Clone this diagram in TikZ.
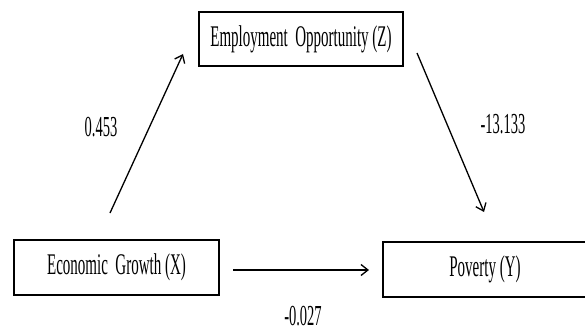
\documentclass[tikz,border=0pt]{standalone}
\usepackage{fontspec}
\usepackage{graphicx}
\setmainfont{Liberation Serif}
\usetikzlibrary{arrows.meta}
\newcommand\narrowtxt[1]{\scalebox{0.5}[1]{#1}}
\tikzset{
  varbox/.style={draw=black, line width=1.9pt, rectangle, inner sep=0pt,
    minimum height=54pt, font=\fontsize{30}{32}\selectfont},
  path arrow/.style={line width=1.3pt, -{Straight Barb[length=7pt,width=11pt,line width=1.3pt]}},
  coef/.style={font=\fontsize{29}{31}\selectfont, inner sep=0pt}
}
\begin{document}
\begin{tikzpicture}[x=1pt,y=-1pt]
\useasboundingbox (0,0) rectangle (585,331);
\node[varbox, minimum width=204pt] (Z) at (301,39) {\narrowtxt{Employment\ \ Opportunity (Z)}};
\node[varbox, minimum width=205pt, minimum height=55pt] (X) at (116.5,267.5) {\narrowtxt{Economic\ \ Growth (X)}};
\node[varbox, minimum width=204pt, minimum height=55pt] (Y) at (485,269.5) {\narrowtxt{Poverty (Y)}};
\coordinate (a1s) at (110,213);
\coordinate (a1e) at (183,54);
\coordinate (a2s) at (417,53);
\coordinate (a2e) at (484,212);
\coordinate (a3s) at (233,270);
\coordinate (a3e) at (369,270);
\draw[path arrow] (a1s) -- (a1e);
\draw[path arrow] (a2s) -- (a2e);
\draw[path arrow] (a3s) -- (a3e);
\node[coef] (c1) at (101,127) {\narrowtxt{0.453}};
\node[coef] (c2) at (503,124) {\narrowtxt{-13.133}};
\node[coef] (c3) at (303,316) {\narrowtxt{-0.027}};
\end{tikzpicture}
\end{document}
